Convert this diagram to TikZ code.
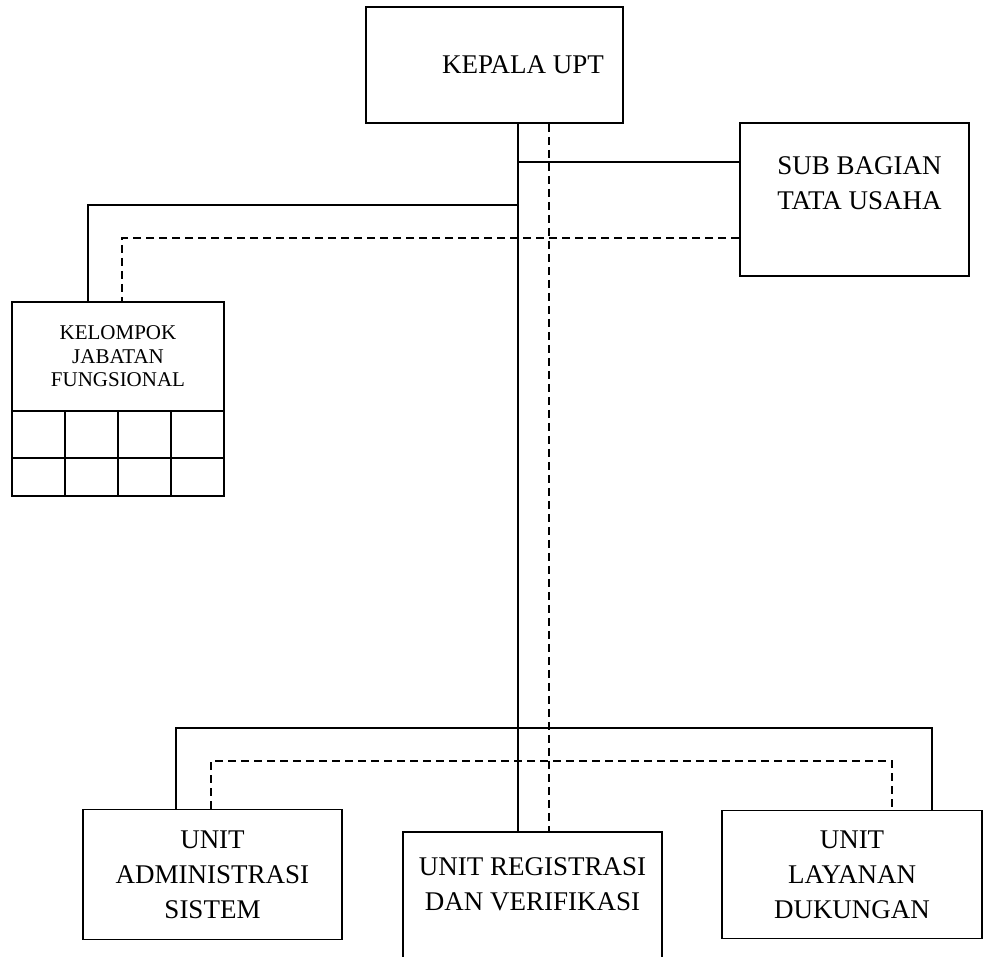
\documentclass[tikz,border=0pt]{standalone}
\usepackage{fontspec}
\setmainfont{Liberation Serif}
\usetikzlibrary{positioning, calc}

\tikzset{
    box/.style={draw, align=center, inner sep=0pt, font=\fontsize{13.5}{17.5}\selectfont},
    txt/.style={align=center, inner sep=0pt, font=\fontsize{13.5}{17.5}\selectfont},
    cell/.style={draw, inner sep=0pt, minimum width=26.5pt},
    dsh/.style={dash pattern=on 4pt off 2.5pt}
}

\begin{document}
\begin{tikzpicture}[x=0.5pt, y=-0.5pt, line width=0.8pt]
    \useasboundingbox (0,0) rectangle (985,957);

    \node (kepala) at (494.5,65) [box, minimum width=128.5pt, minimum height=58pt] {};
    \node (kepalaT) at (kepala.center) [txt, xshift=14.25pt] {KEPALA UPT};

    \node (subbag) at (854.5,199.5) [box, minimum width=114.5pt, minimum height=76.5pt] {};
    \node (subbagT) [txt, below=17pt of subbag.north, xshift=2.5pt] {SUB BAGIAN\\TATA USAHA};

    \node (kelompok) at (118,356.5) [box, minimum width=106pt, minimum height=54.5pt,
        font=\fontsize{10.5}{11.75}\selectfont] {KELOMPOK\\JABATAN\\FUNGSIONAL};
    \foreach \c in {1, 2, 3, 4}
    {
        \node (Top\c) at ({53*\c-14.5},434.5) [cell, minimum height=23.5pt] {};
        \node (Bot\c) at ({53*\c-14.5},477) [cell, minimum height=19pt] {};
    }

    \node (unitadm) at (212.5,874.5) [box, minimum width=129.5pt, minimum height=65pt] {UNIT\\ADMINISTRASI\\SISTEM};
    \node (unitreg) at (532.5,900) [box, minimum width=129.5pt, minimum height=68pt] {};
    \node (unitregT) [txt, below=13pt of unitreg.north] {UNIT REGISTRASI\\DAN VERIFIKASI};
    \node (layanan) at (852,874.5) [box, minimum width=130pt, minimum height=64pt] {UNIT\\LAYANAN\\DUKUNGAN};

    % trunk lines
    \coordinate (trunkS) at (518,0);
    \coordinate (trunkD) at (549,0);
    \draw (kepala.south -| trunkS) -- (unitreg.north -| trunkS);
    \draw[dsh] (kepala.south -| trunkD) -- (unitreg.north -| trunkD);

    % upper branches
    \coordinate (jSub) at (518,162);
    \coordinate (jKel) at (518,205);
    \draw (jSub) -- (jSub -| subbag.west);
    \draw (jKel) -| ([xshift=-15pt]kelompok.north);
    \draw[dsh] ([yshift=-19.25pt]subbag.west) -| ([xshift=2pt]kelompok.north);

    % lower branches
    \coordinate (jBot) at (518,728);
    \coordinate (jBotD) at (549,761);
    \draw ([xshift=-18.25pt]unitadm.north) |- (jBot) -| ([xshift=40pt]layanan.north);
    \draw[dsh] ([xshift=-0.75pt]unitadm.north) |- (jBotD) -| ([xshift=20pt]layanan.north);
\end{tikzpicture}
\end{document}
